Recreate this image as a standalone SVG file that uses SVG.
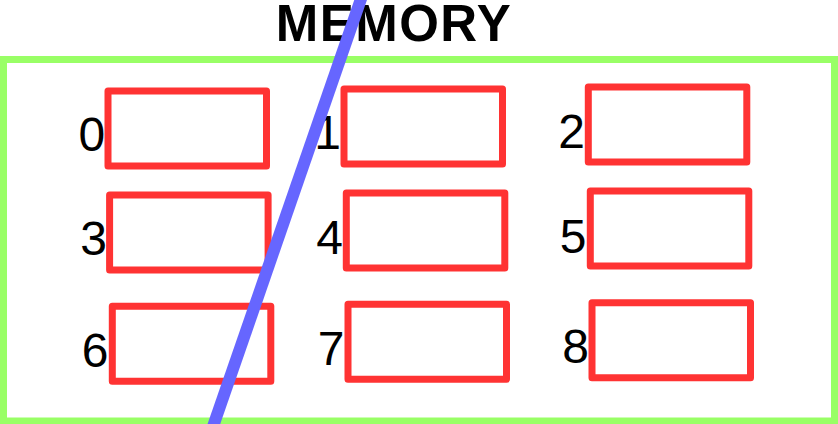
<svg xmlns="http://www.w3.org/2000/svg" width="838" height="424" viewBox="0 0 838 424">
<style>
.cell{fill:none;stroke:#FF3333;stroke-width:7;stroke-linejoin:round}
.lbl{font-family:"Liberation Sans",Arial,sans-serif;font-size:48px;fill:#000;text-anchor:end}
.title{font-family:"Liberation Sans",Arial,sans-serif;font-size:51px;font-weight:bold;fill:#000;text-anchor:middle;letter-spacing:1.5px}
</style>
<rect width="838" height="424" fill="#fff"/>
<g id="memory">
<rect x="3.5" y="59.5" width="831" height="361.5" fill="none" stroke="#99FF66" stroke-width="7"/>
<text class="title" x="394" y="41">MEMORY</text>
</g>
<g id="cell0"><rect class="cell" x="108" y="91" width="158.5" height="75"/><text class="lbl" x="105.3" y="151">0</text></g>
<g id="cell1"><rect class="cell" x="344" y="89" width="158.5" height="75"/><text class="lbl" x="341" y="148.5">1</text></g>
<g id="cell2"><rect class="cell" x="588.3" y="87" width="158.5" height="75"/><text class="lbl" x="585" y="148">2</text></g>
<g id="cell3"><rect class="cell" x="109.6" y="195" width="158.5" height="75"/><text class="lbl" x="107" y="254.5">3</text></g>
<g id="cell4"><rect class="cell" x="346.3" y="193" width="158.5" height="75"/><text class="lbl" x="343" y="253.5">4</text></g>
<g id="cell5"><rect class="cell" x="590.3" y="191" width="158.5" height="75"/><text class="lbl" x="586.5" y="252.5">5</text></g>
<g id="cell6"><rect class="cell" x="112.3" y="306.3" width="158.5" height="75"/><text class="lbl" x="108.5" y="367">6</text></g>
<g id="cell7"><rect class="cell" x="348" y="304.3" width="158.5" height="75"/><text class="lbl" x="344.5" y="365">7</text></g>
<g id="cell8"><rect class="cell" x="592" y="302.7" width="158.5" height="75"/><text class="lbl" x="589" y="363">8</text></g>
<g id="connectors">
<line x1="362" y1="-4" x2="212.5" y2="428" stroke="#6666FF" stroke-width="12"/>
</g>
</svg>
